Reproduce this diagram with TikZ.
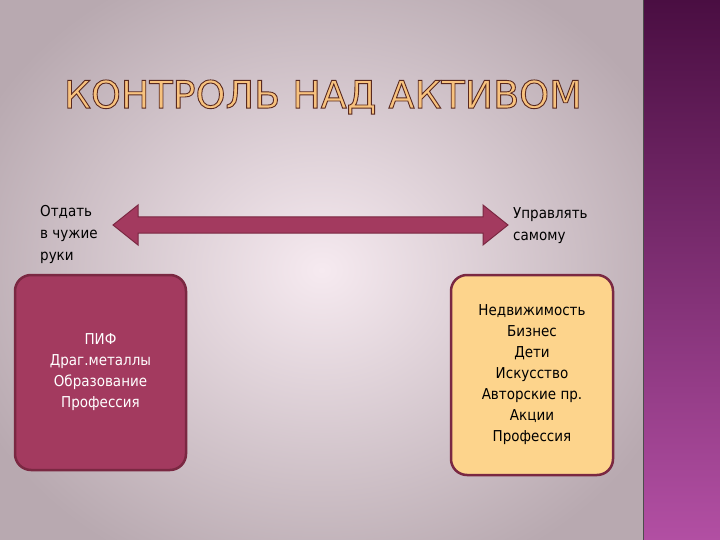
\documentclass[tikz,border=0pt]{standalone}
\usepackage{fontspec}
\setmainfont{DejaVu Sans Condensed}
\newfontfamily\titlefont{DejaVu Sans}
\usetikzlibrary{shadings}
\definecolor{bgin}{HTML}{F6EAF0}
\definecolor{bgout}{HTML}{B8A9B0}
\definecolor{striptop}{HTML}{4A0E42}
\definecolor{stripbot}{HTML}{B24FA3}
\definecolor{crim}{HTML}{A33A5F}
\definecolor{edge}{HTML}{7A2842}
\definecolor{peach}{HTML}{FDD48C}
\definecolor{ttl}{HTML}{F7C27E}
\tikzset{box/.style={rounded corners=16pt, draw=edge, line width=2.5pt, align=center, font=\fontsize{15}{21}\selectfont},
lbl/.style={anchor=north west, align=left, font=\fontsize{15}{22}\selectfont, inner sep=0pt}}
\begin{document}
\begin{tikzpicture}[x=1pt,y=-1pt]
\useasboundingbox (0,0) rectangle (720,540);
\shade[inner color=bgin, outer color=bgout] (-60,-60) rectangle (703,600);
\shade[top color=striptop, bottom color=stripbot] (643,0) rectangle (720,540);
\draw[black!70, line width=1pt] (643,0) -- (643,540);
\node[font=\titlefont\fontsize{38}{38}\selectfont, text=ttl, inner sep=0pt] (title) at (323,97) {\special{pdf:code 2 Tr 0.9 w 0.35 0.16 0.12 RG}КОНТРОЛЬ НАД АКТИВОМ\special{pdf:code 0 Tr}};
\node[lbl] (l1) at (40,205) {Отдать\\в чужие\\руки};
\node[lbl] (r1) at (513,207) {Управлять\\самому};
\node[box, fill=crim, text=white, minimum width=171pt, minimum height=195pt] (lb) at (100.5,372.5) {ПИФ\\Драг.металлы\\Образование\\Профессия};
\node[box, fill=peach, text=black, minimum width=162pt, minimum height=200pt] (rb) at (532,375) {Недвижимость\\Бизнес\\Дети\\Искусство\\Авторские пр.\\Акции\\Профессия};
\coordinate (aL) at (113,225);
\coordinate (aR) at (508,225);
\fill[crim, draw=edge, line width=1pt] (aL) -- (138,205) -- (138,217) -- (483,217) -- (483,205) -- (aR) -- (483,245) -- (483,233) -- (138,233) -- (138,245) -- cycle;
\end{tikzpicture}
\end{document}
